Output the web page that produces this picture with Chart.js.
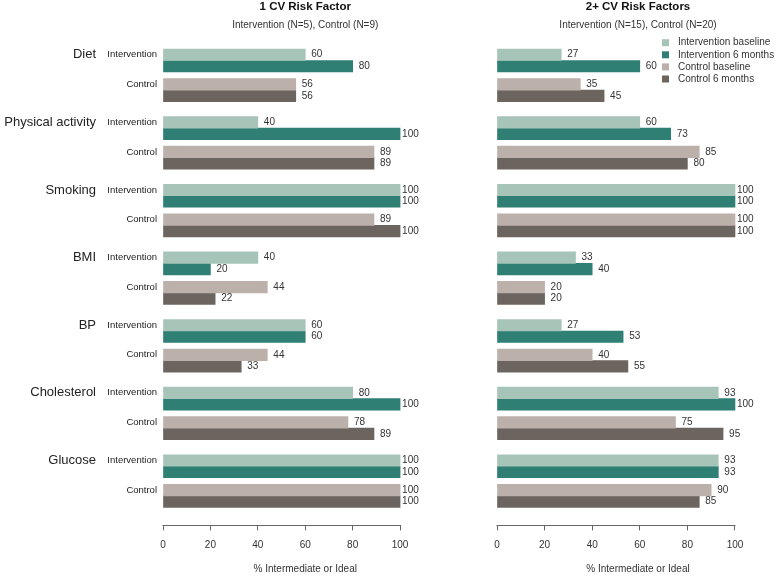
<!DOCTYPE html>
<html>
<head>
<meta charset="utf-8">
<script src="https://cdn.jsdelivr.net/npm/chart.js@4"></script>
<style>
  body { margin: 0; background: #fff; }
  #wrap { position: relative; width: 779px; height: 577px; }
  canvas { position: absolute; top: 0; }
</style>
</head>
<body>
<div id="wrap">
  <canvas id="left" width="460" height="577" style="left:0"></canvas>
  <canvas id="right" width="319" height="577" style="left:460px"></canvas>
</div>
<script>
const categories = ['Diet', 'Physical activity', 'Smoking', 'BMI', 'BP', 'Cholesterol', 'Glucose']
const groups = ['Intervention', 'Control']
const seriesNames = ['Intervention baseline', 'Intervention 6 months', 'Control baseline', 'Control 6 months']
const xTicks = [0, 20, 40, 60, 80, 100]

// 1 CV risk factor
const oneIntBase = [60, 40, 100, 40, 60, 80, 100]
const oneInt6m   = [80, 100, 100, 20, 60, 100, 100]
const oneCtlBase = [56, 89, 89, 44, 44, 78, 100]
const oneCtl6m   = [56, 89, 100, 22, 33, 89, 100]

// 2+ CV risk factors
const twoIntBase = [27, 60, 100, 33, 27, 93, 93]
const twoInt6m   = [60, 73, 100, 40, 53, 100, 93]
const twoCtlBase = [35, 85, 100, 20, 40, 75, 90]
const twoCtl6m   = [45, 80, 100, 20, 55, 95, 85]

const colors = ['#a7c4b9', '#2f7f74', '#bcb0ab', '#6c645f']
const FONT = "'Liberation Sans', Arial, sans-serif"
Chart.defaults.font.family = FONT
Chart.defaults.color = '#333'

// row grid: each category takes 16 rows, control sits 7 rows below intervention
const LEAD = 3, PER_CAT = 16, CTRL_ROW = 7, TRAIL = 7
const nRows = LEAD + (categories.length - 1) * PER_CAT + CTRL_ROW + 1 + TRAIL

function spread(values, offset){
    const out = new Array(nRows).fill(null)
    values.forEach((v, i) => { out[LEAD + i * PER_CAT + offset] = v })
    return out
}
const rowLabels = spread(categories.map(() => groups[0]), 0).map(v => v || '')
categories.forEach((c, i) => { rowLabels[LEAD + i * PER_CAT + CTRL_ROW] = groups[1] })
const catLabels = spread(categories, 0).map(v => v || '')

const valueLabels = {
    id: 'valueLabels',
    afterDatasetsDraw(chart){
        const ctx = chart.ctx
        ctx.save()
        ctx.font = `10px ${FONT}`
        ctx.fillStyle = '#333'
        ctx.textBaseline = 'middle'
        chart.data.datasets.forEach((ds, i) => {
            chart.getDatasetMeta(i).data.forEach((bar, j) => {
                const v = ds.data[j]
                if(v === null) return
                ctx.fillText(v, bar.x + (v >= 100 ? 2 : 6), bar.y)
            })
        })
        ctx.restore()
    }
}

// axis line only from 0 to 100
const axisLine = {
    id: 'axisLine',
    afterDraw(chart){
        const x = chart.scales.x
        const ctx = chart.ctx
        const y = Math.round(x.top) + 0.5
        ctx.save()
        ctx.strokeStyle = '#666'
        ctx.lineWidth = 1
        ctx.beginPath()
        ctx.moveTo(x.getPixelForValue(xTicks[0]) - 0.5, y)
        ctx.lineTo(x.getPixelForValue(xTicks[xTicks.length - 1]) + 0.5, y)
        ctx.stroke()
        ctx.restore()
    }
}

const sideLegend = {
    id: 'sideLegend',
    afterDraw(chart){
        const {ctx, chartArea} = chart
        ctx.save()
        ctx.font = `10px ${FONT}`
        ctx.textBaseline = 'middle'
        chart.data.datasets.forEach((ds, i) => {
            const y = 42.7 + i * 12.1
            ctx.fillStyle = ds.backgroundColor
            ctx.fillRect(chartArea.right - 117, y - 3.5, 7, 7)
            ctx.fillStyle = '#333'
            ctx.fillText(ds.label, chartArea.right - 101, y)
        })
        ctx.restore()
    }
}

function displayChart(id, vals, title, subtitle, xMax, padding, showRows, plugins){
    const datasets = vals.map((v, i) => ({
        label: seriesNames[i],
        data: spread(v, i < 2 ? 0 : CTRL_ROW),
        backgroundColor: colors[i],
        borderWidth: 0,
        barThickness: 11.5,
        stack: i % 2 === 0 ? 'base' : 'six'
    }))
    const scales = {
        x: {
            min: 0, max: xMax,
            afterBuildTicks: s => { s.ticks = xTicks.map(v => ({value: v})) },
            border: {display: false},
            grid: {display: true, drawOnChartArea: false, drawTicks: true, tickLength: 5, color: '#666'},
            ticks: {font: {size: 10}, padding: 9, color: '#333', maxRotation: 0},
            title: {display: true, text: '% Intermediate or Ideal', font: {size: 10}, padding: {top: 2.6, bottom: 2}, color: '#333'}
        },
        y: {
            type: 'category',
            offset: false,
            display: showRows,
            weight: 0,
            border: {display: false},
            grid: {display: false, drawTicks: false},
            ticks: {autoSkip: false, font: {size: 9.5}, padding: 6, labelOffset: -5.75, color: '#222'}
        }
    }
    if(showRows){
        scales.y.afterFit = s => { s.width = 63 }
        scales.yc = {
            type: 'category',
            labels: catLabels,
            offset: false,
            position: 'left',
            weight: 1,
            border: {display: false},
            grid: {display: false, drawTicks: false},
            ticks: {autoSkip: false, font: {size: 13}, padding: 4, labelOffset: -5.75, color: '#222'},
            afterFit: s => { s.width = 100 }
        }
    }
    new Chart(document.getElementById(id), {
        type: 'bar',
        data: {labels: rowLabels, datasets},
        options: {
            indexAxis: 'y',
            responsive: false,
            animation: false,
            layout: {padding},
            scales,
            plugins: {
                legend: {display: false},
                tooltip: {enabled: false},
                title: {display: true, text: title, fullSize: false, font: {size: 11.5, weight: 'bold'}, color: '#111', padding: {top: 0, bottom: 0}},
                subtitle: {display: true, text: subtitle, fullSize: false, font: {size: 10}, color: '#333', padding: {top: 5.2, bottom: 16.8}}
            }
        },
        plugins: [valueLabels, axisLine, ...plugins]
    })
}

displayChart('left', [oneIntBase, oneInt6m, oneCtlBase, oneCtl6m], '1 CV Risk Factor',
    'Intervention (N=5), Control (N=9)', 120, {left: 0, right: 12.5, top: 0, bottom: 0}, true, [])
displayChart('right', [twoIntBase, twoInt6m, twoCtlBase, twoCtl6m], '2+ CV Risk Factors',
    'Intervention (N=15), Control (N=20)', 118.5, {left: 37, right: 0, top: 0, bottom: 0}, false, [sideLegend])
</script>
</body>
</html>
